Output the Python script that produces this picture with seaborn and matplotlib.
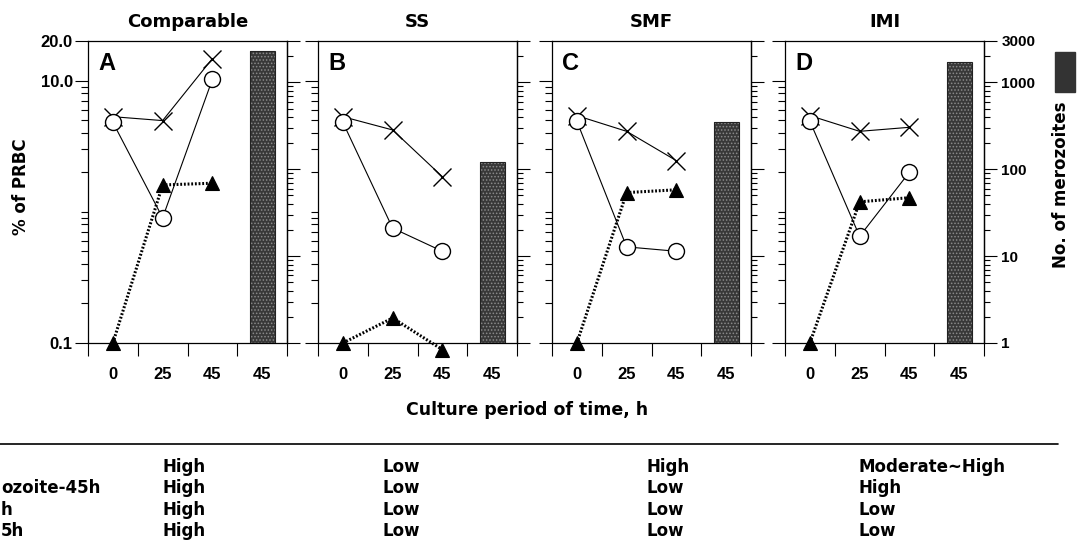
import numpy as np
import matplotlib
matplotlib.use('Agg')
import matplotlib.pyplot as plt
import matplotlib.ticker as mticker
from matplotlib.patches import Rectangle
from matplotlib.lines import Line2D
import seaborn as sns

panel_titles = ['Comparable', 'SS', 'SMF', 'IMI']
panel_letters = ['A', 'B', 'C', 'D']
time_labels = ['0', '25', '45', '45']
bar_keys = ['t0', 't25', 't45', 'm45']

# % of PRBC at 0, 25, 45 h
cross_vals = [[5.3, 4.95, 14.7], [5.3, 4.2, 1.85], [5.4, 4.1, 2.45], [5.4, 4.1, 4.4]]
circle_vals = [[4.8, 0.9, 10.2], [4.8, 0.75, 0.5], [4.9, 0.54, 0.5], [4.9, 0.65, 2.0]]
triangle_vals = [[0.1, 1.6, 1.65], [0.1, 0.155, 0.089], [0.1, 1.4, 1.47], [0.1, 1.19, 1.28]]
# No. of merozoites at 45 h
merozoites = [2300, 120, 350, 1700]

prbc_major = [0.1, 10, 20]
prbc_major_labels = ['0.1', '10.0', '20.0']
prbc_minor = [0.2, 0.3, 0.4, 0.5, 0.6, 0.7, 0.8, 0.9, 1, 2, 3, 4, 5, 6, 7, 8, 9]
mero_major = [1, 10, 100, 1000, 3000]
mero_major_labels = ['1', '10', '100', '1000', '3000']
mero_minor = [2, 3, 4, 5, 6, 7, 8, 9, 20, 30, 40, 50, 60, 70, 80, 90,
              200, 300, 400, 500, 600, 700, 800, 900, 2000]

row_labels = ['', 'ozoite-45h', 'h', '5h']
table_values = [['High', 'Low', 'High', 'Moderate~High'],
                ['High', 'Low', 'Low', 'High'],
                ['High', 'Low', 'Low', 'Low'],
                ['High', 'Low', 'Low', 'Low']]

sns.set_style('ticks', {'axes.edgecolor': 'black', 'xtick.color': 'black',
                        'ytick.color': 'black', 'text.color': 'black',
                        'axes.labelcolor': 'black'})
plt.rcParams['font.family'] = ['DejaVu Sans']
plt.rcParams['font.weight'] = 'bold'
plt.rcParams['hatch.linewidth'] = 0.7

W, H = 1084, 553
fig = plt.figure(figsize=(W / 100, H / 100), dpi=100)

lefts = [88, 318, 552, 785]
pw = 199
top, bottom = 41, 343
rect_h = (bottom - top) / H

for i in range(4):
    rect = [lefts[i] / W, 1 - bottom / H, pw / W, rect_h]
    ax = fig.add_axes(rect)
    ax.set_yscale('log')
    pos = [0, 1, 2]
    sns.lineplot(x=pos, y=cross_vals[i], ax=ax, color='black', lw=0.8, marker='x',
                 markersize=12.5, mew=1.0, mec='black', clip_on=False)
    sns.lineplot(x=pos, y=circle_vals[i], ax=ax, color='black', lw=0.8, marker='o',
                 markersize=11.5, mfc='white', mew=1.0, mec='black', clip_on=False)
    sns.lineplot(x=pos, y=triangle_vals[i], ax=ax, color='black', lw=2.2,
                 linestyle=(0, (0.6, 0.6)), marker='^', markersize=10,
                 mfc='black', mec='black', mew=0.8, clip_on=False)
    ax.set_xlim(-0.5, 3.5)
    ax.set_ylim(0.1, 20)
    ax.xaxis.set_major_locator(mticker.FixedLocator([-0.5, 0.5, 1.5, 2.5, 3.5]))
    ax.xaxis.set_major_formatter(mticker.NullFormatter())
    ax.xaxis.set_minor_locator(mticker.FixedLocator([0, 1, 2, 3]))
    ax.xaxis.set_minor_formatter(mticker.FixedFormatter(time_labels))
    ax.yaxis.set_major_locator(mticker.FixedLocator(prbc_major))
    ax.yaxis.set_minor_locator(mticker.FixedLocator(prbc_minor))
    ax.yaxis.set_minor_formatter(mticker.NullFormatter())
    if i == 0:
        ax.yaxis.set_major_formatter(mticker.FixedFormatter(prbc_major_labels))
    else:
        ax.yaxis.set_major_formatter(mticker.NullFormatter())
    ax.tick_params(axis='x', which='major', length=9.5, width=0.8)
    ax.tick_params(axis='x', which='minor', length=0, pad=17, labelsize=12,
                   labelfontfamily='Liberation Sans')
    ax.tick_params(axis='y', which='major', length=9.5, width=0.8, pad=1.5,
                   labelsize=12, labelfontfamily='Liberation Sans')
    ax.tick_params(axis='y', which='minor', length=5, width=0.8)
    for s in ax.spines.values():
        s.set_linewidth(0.9)
    ax.set_title(panel_titles[i], pad=10, fontsize=13, fontweight='bold')
    ax.text(0.05, 0.965, panel_letters[i], transform=ax.transAxes, fontsize=17,
            fontweight='bold', va='top', ha='left', family='Liberation Sans')

    # merozoite bars on an overlaid axes with the right-hand log scale
    ax2 = fig.add_axes(rect)
    ax2.set_yscale('log')
    sns.barplot(x=[bar_keys[3]], y=[merozoites[i]], order=bar_keys, ax=ax2,
                width=0.5, color='#383838', saturation=1, edgecolor='#8a8a8a',
                linewidth=0, hatch='.....')
    for p in list(ax2.patches):
        ax2.add_patch(Rectangle(p.get_xy(), p.get_width(), p.get_height(),
                                fill=False, ec='#222222', lw=0.8))
    ax2.set_xlim(-0.5, 3.5)
    ax2.set_ylim(1, 3000)
    ax2.patch.set_visible(False)
    ax2.xaxis.set_visible(False)
    ax2.set_ylabel('')
    ax2.yaxis.tick_right()
    for side in ['left', 'top', 'bottom']:
        ax2.spines[side].set_visible(False)
    ax2.spines['right'].set_visible(True)
    ax2.spines['right'].set_linewidth(0.9)
    ax2.yaxis.set_major_locator(mticker.FixedLocator(mero_major))
    ax2.yaxis.set_minor_locator(mticker.FixedLocator(mero_minor))
    ax2.yaxis.set_minor_formatter(mticker.NullFormatter())
    if i == 3:
        ax2.yaxis.set_major_formatter(mticker.FixedFormatter(mero_major_labels))
    else:
        ax2.yaxis.set_major_formatter(mticker.NullFormatter())
    ax2.tick_params(axis='y', which='major', length=9, width=0.8, pad=3.5,
                    labelsize=11, labelfontfamily='Liberation Sans')
    ax2.tick_params(axis='y', which='minor', length=4.5, width=0.8)

fig.text(21 / W, 1 - 187 / H, '% of PRBC', rotation=90, ha='center', va='center',
         fontsize=12, fontweight='bold')
fig.text(527 / W, 1 - 410 / H, 'Culture period of time, h', ha='center', va='center',
         fontsize=12.5, fontweight='bold')
fig.text(1061 / W, 1 - 185 / H, 'No. of merozoites', rotation=90, ha='center',
         va='center', fontsize=12, fontweight='bold')
fig.patches.append(Rectangle((1055 / W, 1 - 92 / H), 20 / W, 40 / H,
                             transform=fig.transFigure, color='#333333'))

# summary table under the panels
fig.add_artist(Line2D([0, 1058 / W], [1 - 444 / H, 1 - 444 / H], color='black',
                      lw=1.2, transform=fig.transFigure))
row_y = [467, 488, 510, 531]
col_x = [163, 383, 647, 858]
for r in range(4):
    fig.text(1 / W, 1 - row_y[r] / H, row_labels[r], ha='left', va='center',
             fontsize=12, fontweight='bold')
    for c in range(4):
        fig.text(col_x[c] / W, 1 - row_y[r] / H, table_values[r][c], ha='left',
                 va='center', fontsize=12, fontweight='bold')

fig.savefig('out.png', dpi=100)
